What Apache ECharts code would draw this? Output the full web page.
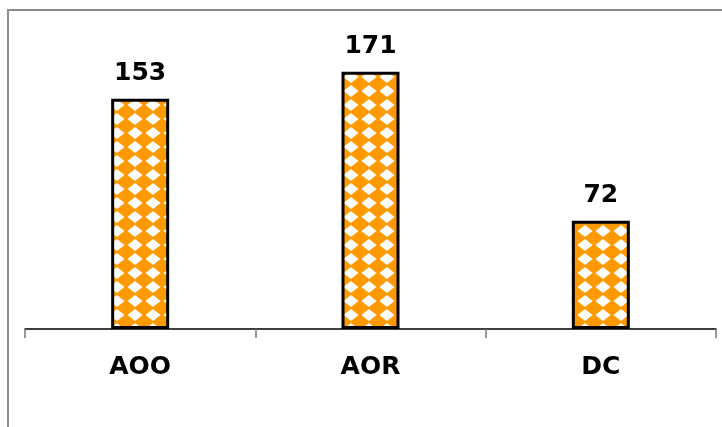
<!DOCTYPE html>
<html>
<head>
<meta charset="utf-8">
<script src="https://cdn.jsdelivr.net/npm/echarts@6/dist/echarts.min.js"></script>
<style>
html,body{margin:0;padding:0;background:#fff;}
#chart{width:722px;height:427px;}
</style>
</head>
<body>
<div id="chart"></div>
<script>
const categories = ['AOO', 'AOR', 'DC'];
const values = [153, 171, 72];

function makePattern() {
  const w = 18, h = 14;
  const c = document.createElement('canvas');
  c.width = w; c.height = h;
  const ctx = c.getContext('2d');
  ctx.fillStyle = '#FF9900';
  ctx.fillRect(0, 0, w, h);
  ctx.fillStyle = '#FFFFFF';
  const hw = w * 0.42, hh = h * 0.42;
  ctx.beginPath();
  ctx.moveTo(w / 2, h / 2 - hh);
  ctx.lineTo(w / 2 + hw, h / 2);
  ctx.lineTo(w / 2, h / 2 + hh);
  ctx.lineTo(w / 2 - hw, h / 2);
  ctx.closePath();
  ctx.fill();
  return c;
}

const chart = echarts.init(document.getElementById('chart'), null, {renderer: 'canvas'});
chart.setOption({
  animation: false,
  backgroundColor: '#ffffff',
  graphic: [{
    type: 'rect',
    shape: {x: 8, y: 10, width: 800, height: 600},
    style: {fill: 'none', stroke: '#8c8c8c', lineWidth: 2},
    silent: true
  }],
  grid: {left: 25, right: 6, top: 28, bottom: 98},
  xAxis: {
    type: 'category',
    data: categories,
    axisLine: {lineStyle: {color: '#000', width: 1.5}},
    axisTick: {show: true, length: 9, lineStyle: {color: '#777', width: 1.5}},
    axisLabel: {
      color: '#000', fontSize: 25, fontWeight: 'bold',
      fontFamily: 'DejaVu Sans', margin: 26
    }
  },
  yAxis: {
    type: 'value', min: 0, max: 200, show: false,
    splitLine: {show: false}
  },
  series: [{
    type: 'bar',
    data: values,
    barWidth: 58,
    itemStyle: {
      color: {image: makePattern(), repeat: 'repeat'},
      borderColor: '#000',
      borderWidth: 3
    },
    label: {
      show: true, position: 'top', distance: 13,
      color: '#000', fontSize: 25, fontWeight: 'bold', fontFamily: 'DejaVu Sans'
    }
  }]
});
</script>
</body>
</html>
